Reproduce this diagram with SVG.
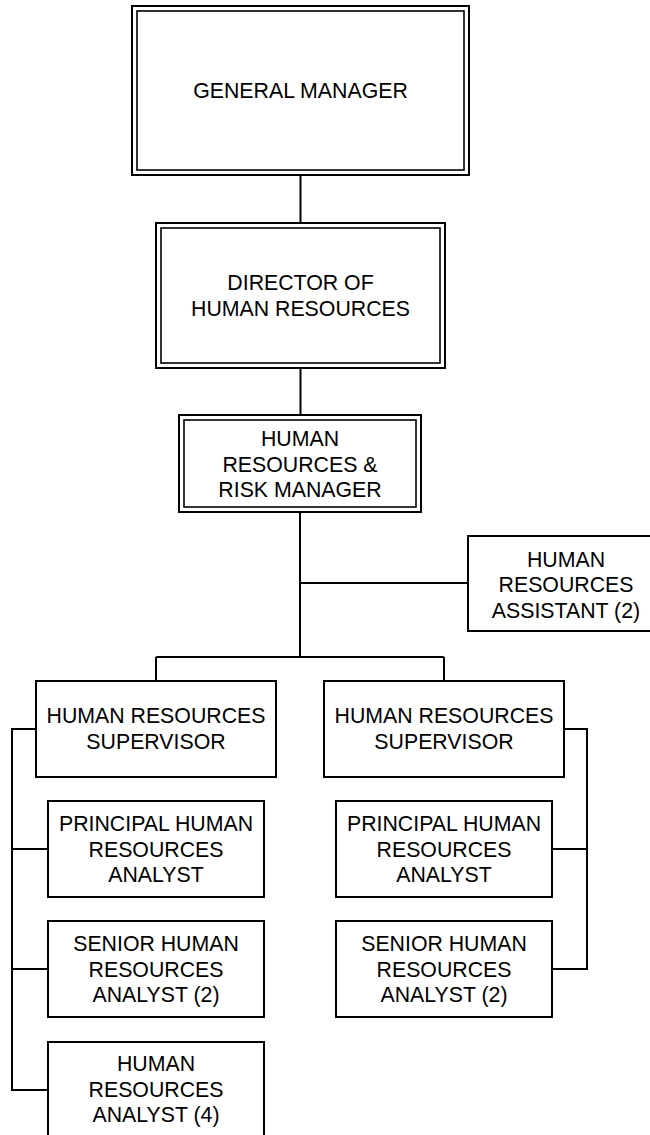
<svg xmlns="http://www.w3.org/2000/svg" width="650" height="1135" viewBox="0 0 650 1135">
<style>
.bg{fill:#fff}
.box{fill:#fff;stroke:#000;stroke-width:2}
.inner{fill:none;stroke:#000;stroke-width:1.6}
.ln{fill:none;stroke:#000;stroke-width:2}
text{font-family:"Liberation Sans",Arial,sans-serif;font-size:21.3px;fill:#000;text-anchor:middle}
</style>
<rect class="bg" x="0" y="0" width="650" height="1135"/>
<g id="connectors">
<path class="ln" d="M300.5 175V223M300.5 368V415M300 512V657M300 583H468M156 657H444M156 657V681M444 657V681"/>
<path class="ln" d="M36 729H12V1090H48M12 849H48M12 969H48"/>
<path class="ln" d="M564 729H587V969H552M552 849H587"/>
</g>
<g id="general-manager">
<rect class="box" x="132" y="6" width="337" height="169"/>
<rect class="inner" x="137" y="11" width="327" height="159"/>
<text x="300.5" y="97.5">GENERAL MANAGER</text>
</g>
<g id="director-hr">
<rect class="box" x="156" y="223" width="289" height="145"/>
<rect class="inner" x="161" y="228" width="279" height="135"/>
<text x="300.5" y="290.3">DIRECTOR OF</text>
<text x="300.5" y="315.8">HUMAN RESOURCES</text>
</g>
<g id="hr-risk-manager">
<rect class="box" x="179" y="415" width="242" height="97"/>
<rect class="inner" x="184" y="420" width="232" height="87"/>
<text x="300" y="446.3">HUMAN</text>
<text x="300" y="471.8">RESOURCES &amp;</text>
<text x="300" y="497.3">RISK MANAGER</text>
</g>
<g id="hr-assistant">
<rect class="box" x="468" y="536" width="198" height="95"/>
<text x="566" y="566.5">HUMAN</text>
<text x="566" y="592">RESOURCES</text>
<text x="566" y="617.5">ASSISTANT (2)</text>
</g>
<g id="supervisor-left">
<rect class="box" x="36" y="681" width="240" height="96"/>
<text x="156" y="723.3">HUMAN RESOURCES</text>
<text x="156" y="748.8">SUPERVISOR</text>
</g>
<g id="supervisor-right">
<rect class="box" x="324" y="681" width="240" height="96"/>
<text x="444" y="723.3">HUMAN RESOURCES</text>
<text x="444" y="748.8">SUPERVISOR</text>
</g>
<g id="principal-left">
<rect class="box" x="48" y="801" width="216" height="96"/>
<text x="156" y="831">PRINCIPAL HUMAN</text>
<text x="156" y="856.5">RESOURCES</text>
<text x="156" y="882">ANALYST</text>
</g>
<g id="principal-right">
<rect class="box" x="336" y="801" width="216" height="96"/>
<text x="444" y="831">PRINCIPAL HUMAN</text>
<text x="444" y="856.5">RESOURCES</text>
<text x="444" y="882">ANALYST</text>
</g>
<g id="senior-left">
<rect class="box" x="48" y="921" width="216" height="96"/>
<text x="156" y="951">SENIOR HUMAN</text>
<text x="156" y="976.5">RESOURCES</text>
<text x="156" y="1002">ANALYST (2)</text>
</g>
<g id="senior-right">
<rect class="box" x="336" y="921" width="216" height="96"/>
<text x="444" y="951">SENIOR HUMAN</text>
<text x="444" y="976.5">RESOURCES</text>
<text x="444" y="1002">ANALYST (2)</text>
</g>
<g id="hr-analyst">
<rect class="box" x="48" y="1042" width="216" height="96"/>
<text x="156" y="1071">HUMAN</text>
<text x="156" y="1096.5">RESOURCES</text>
<text x="156" y="1122">ANALYST (4)</text>
</g>
</svg>
